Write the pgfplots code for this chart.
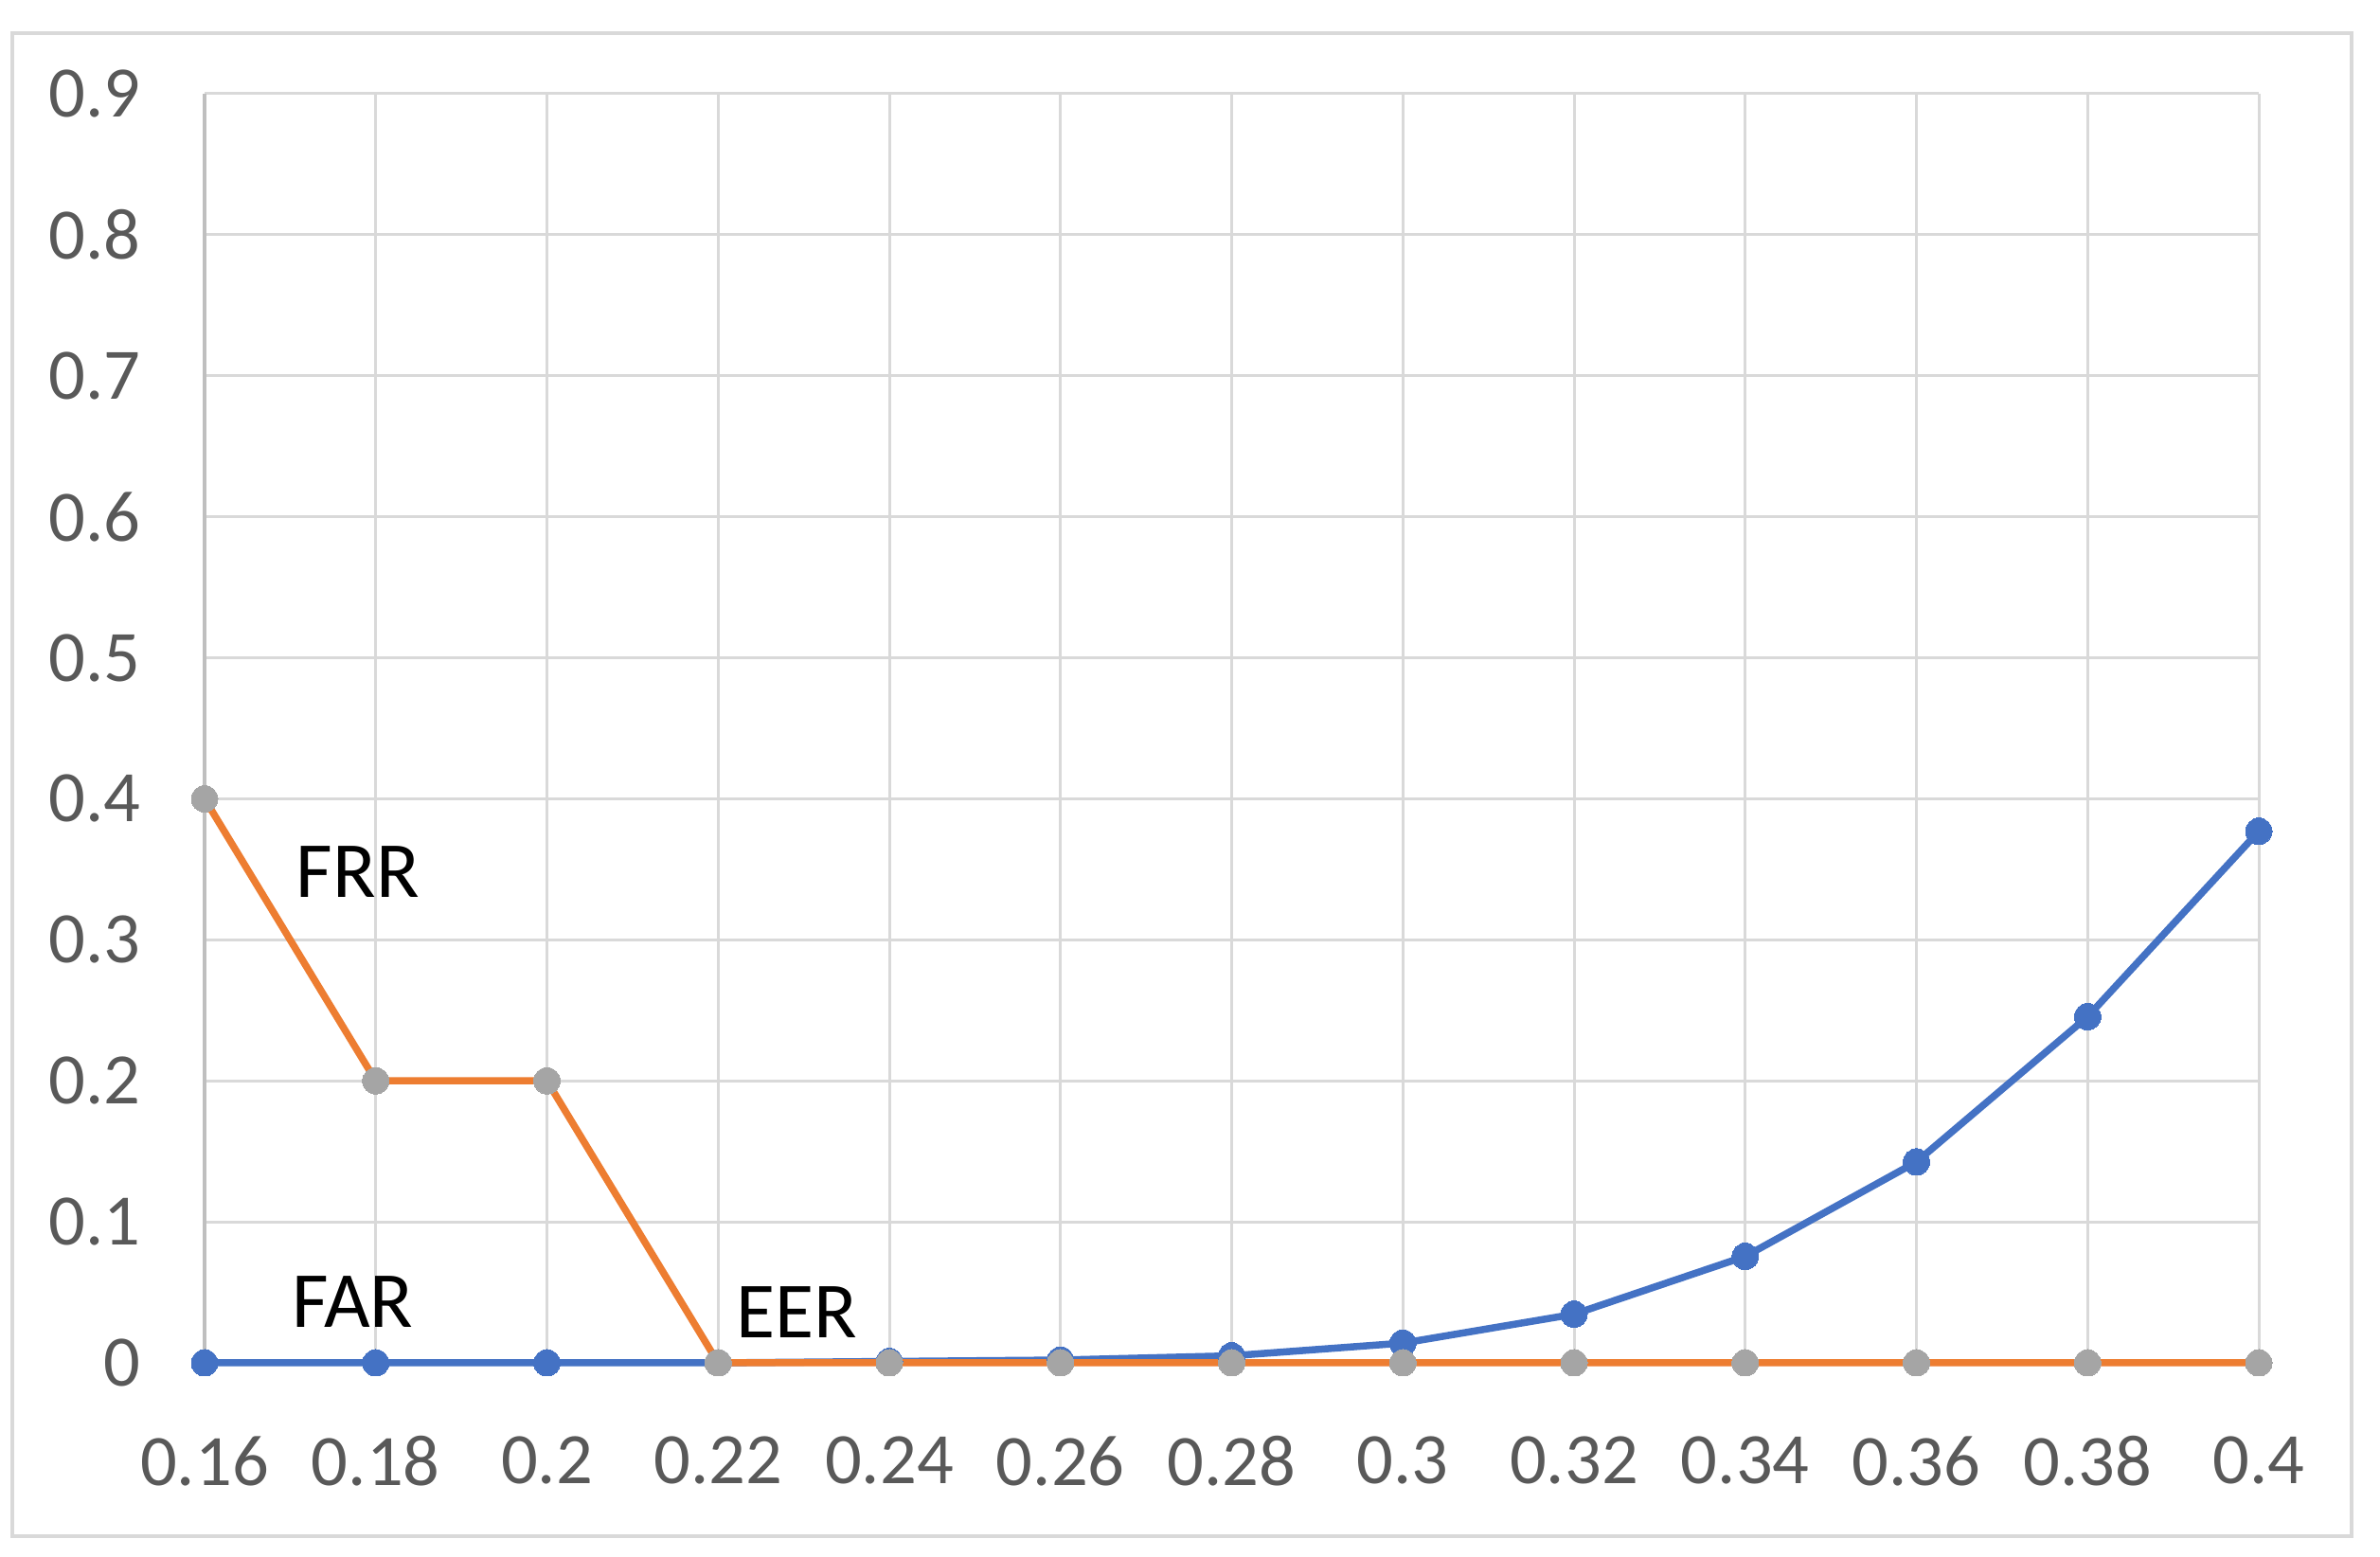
\documentclass[border=0pt]{standalone}
\usepackage{fontspec}
\setmainfont{Carlito}
\usepackage{pgfplots}
\pgfplotsset{compat=1.18}
\definecolor{gridc}{HTML}{D9D9D9}
\definecolor{axc}{HTML}{BFBFBF}
\definecolor{labc}{HTML}{595959}
\definecolor{farc}{HTML}{4472C4}
\definecolor{frrc}{HTML}{ED7D31}
\definecolor{mkc}{HTML}{A5A5A5}
\begin{document}
\begin{tikzpicture}
\useasboundingbox (0,0) rectangle (502.6pt,328.8pt);
\draw[gridc, line width=0.8pt] (2.6pt,4.4pt) rectangle (496.6pt,321.8pt);
\begin{axis}[
  at={(43.2pt,41pt)}, anchor=south west,
  scale only axis, width=433.8pt, height=268pt,
  xmin=0.16, xmax=0.4, ymin=0, ymax=0.9,
  clip=false,
  axis lines=left,
  x axis line style={draw=none},
  y axis line style={-, draw=axc, line width=0.7pt},
  xtick={0.16,0.18,0.2,0.22,0.24,0.26,0.28,0.3,0.32,0.34,0.36,0.38,0.4},
  xticklabels={0.16,0.18,0.2,0.22,0.24,0.26,0.28,0.3,0.32,0.34,0.36,0.38,0.4},
  ytick={0,0.1,0.2,0.3,0.4,0.5,0.6,0.7,0.8,0.9},
  yticklabels={0,0.1,0.2,0.3,0.4,0.5,0.6,0.7,0.8,0.9},
  major tick length=0pt,
  grid=major,
  major grid style={gridc, line width=0.6pt},
  xticklabel style={font=\fontsize{15.3}{18}\selectfont, text=labc, yshift=-12pt},
  yticklabel style={font=\fontsize{15.3}{18}\selectfont, text=labc, xshift=-10pt},
]
\addplot[farc, line width=1.5pt, mark=*, mark size=2.8pt, mark options={fill=farc, draw=farc, line width=0pt}] coordinates {
(0.16,0) (0.18,0) (0.2,0) (0.22,0) (0.24,0.001) (0.26,0.002) (0.28,0.005)
(0.3,0.014) (0.32,0.0345) (0.34,0.0755) (0.36,0.1425) (0.38,0.2455) (0.4,0.377)
};
\addplot[frrc, line width=1.5pt, mark=*, mark size=2.8pt, mark options={fill=mkc, draw=mkc, line width=0pt}] coordinates {
(0.16,0.4) (0.18,0.2) (0.2,0.2) (0.22,0) (0.24,0) (0.26,0) (0.28,0)
(0.3,0) (0.32,0) (0.34,0) (0.36,0) (0.38,0) (0.4,0)
};
\node[font=\fontsize{16.8}{20}\selectfont, text=black] at (axis cs:0.1779,0.348) {FRR};
\node[font=\fontsize{16.8}{20}\selectfont, text=black] at (axis cs:0.1773,0.043) {FAR};
\node[font=\fontsize{16.8}{20}\selectfont, text=black] at (axis cs:0.2292,0.036) {EER};
\end{axis}
\end{tikzpicture}
\end{document}
